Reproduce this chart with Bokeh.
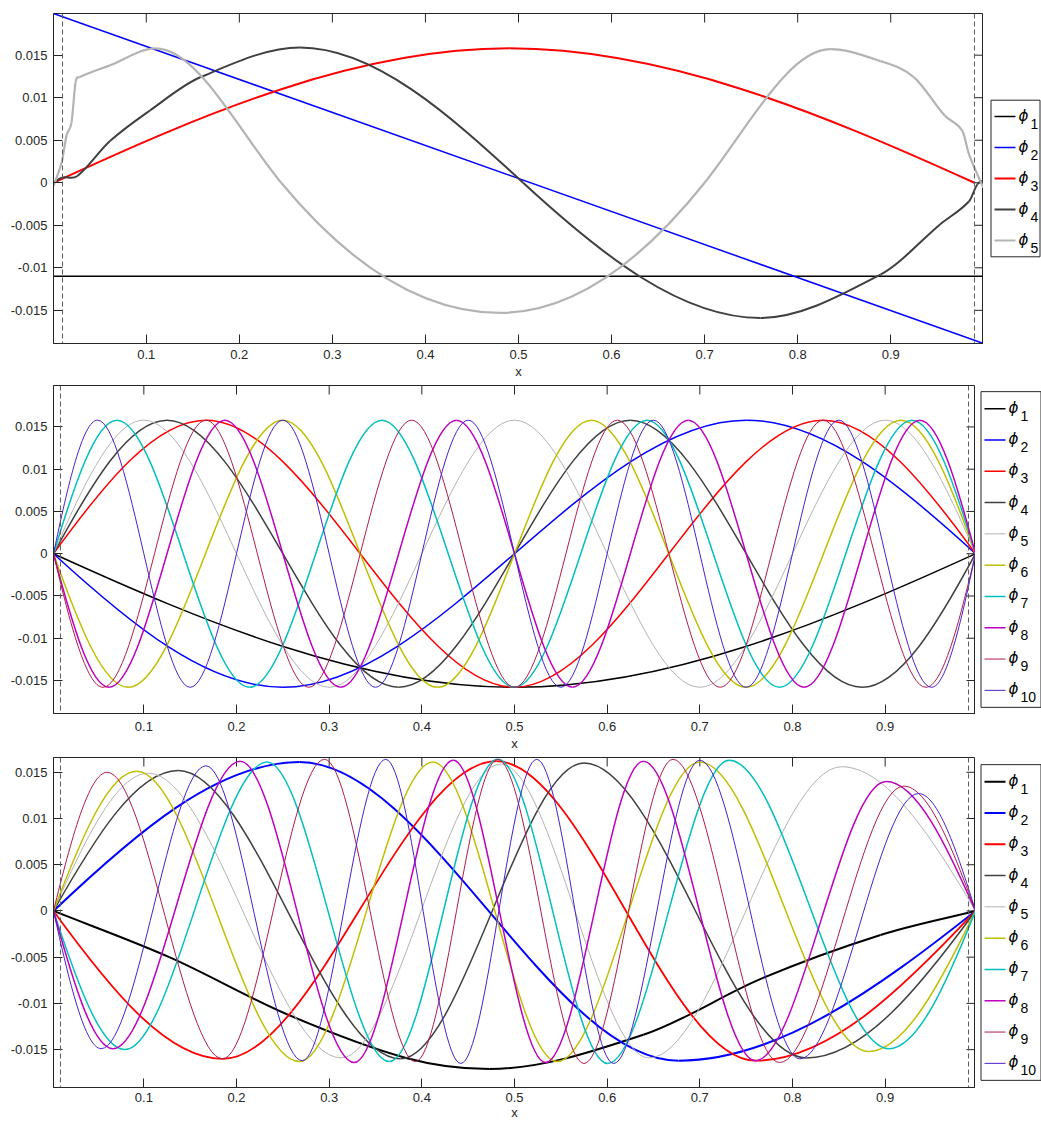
import numpy as np
from bokeh.plotting import figure
from bokeh.models import Range1d, FixedTicker, Span, ColumnDataSource
from bokeh.core.properties import value
from bokeh.layouts import column, row
from bokeh.embed import file_html
from bokeh.resources import INLINE

# ---------------- ticks / labels ----------------
x_ticks = [0.1, 0.2, 0.3, 0.4, 0.5, 0.6, 0.7, 0.8, 0.9]
x_tick_labels = ["0.1", "0.2", "0.3", "0.4", "0.5", "0.6", "0.7", "0.8", "0.9"]
y_ticks = [-0.015, -0.01, -0.005, 0.0, 0.005, 0.01, 0.015]
y_tick_labels = ["-0.015", "-0.01", "-0.005", "0", "0.005", "0.01", "0.015"]
boundary_x = [0.01, 0.99]
legend_symbol = "ϕ"
legend_subs = ["1", "2", "3", "4", "5", "6", "7", "8", "9", "10"]
colors = ["#000000", "#0000ff", "#ff0000", "#404040", "#b3b3b3",
          "#bfbf00", "#00bfbf", "#bf00bf", "#b01c4b", "#4a20cc"]

# ---------------- panel 1 (key points) ----------------
p1_phi1_x = [0.0003, 0.9997]
p1_phi1_y = [-0.0110, -0.0110]
p1_phi2_x = [0.0003, 0.9997]
p1_phi2_y = [0.0199, -0.0189]
p1_phi3_x = [0.0003, 0.49, 0.99]
p1_phi3_y = [0.0, 0.0158, 0.0]
p1_phi4_x = [0.0003, 0.0093, 0.026, 0.061, 0.104, 0.158, 0.265, 0.505, 0.76, 0.889, 0.953, 0.984, 0.993, 0.9997]
p1_phi4_y = [0.0, 0.0006, 0.0008, 0.0049, 0.0085, 0.0124, 0.0159, 0.0, -0.0159, -0.0108, -0.0049, -0.0022, -0.0002, 0.0003]
p1_phi5_x = [0.0003, 0.0093, 0.0144, 0.0197, 0.024, 0.028, 0.061, 0.11, 0.245, 0.48, 0.70, 0.835, 0.889, 0.925, 0.958, 0.977, 0.984, 0.993, 0.9997]
p1_phi5_y = [-0.0004, 0.0025, 0.0056, 0.0071, 0.0118, 0.0124, 0.0138, 0.0158, 0.0, -0.0153, 0.0, 0.0157, 0.0143, 0.0124, 0.0079, 0.0061, 0.0034, 0.0010, -0.0006]

# ---------------- panel 2 (extrema) ----------------
p2_phi1_x = [0.0025, 0.5, 0.9975]
p2_phi1_y = [0.0, -0.0158, 0.0]
p2_phi2_x = [0.0025, 0.25, 0.75, 0.9975]
p2_phi2_y = [0.0, -0.0158, 0.0158, 0.0]
p2_phi3_x = [0.0025, 0.167, 0.5, 0.833, 0.9975]
p2_phi3_y = [0.0, 0.0158, -0.0158, 0.0158, 0.0]
p2_phi4_x = [0.0025, 0.125, 0.375, 0.625, 0.875, 0.9975]
p2_phi4_y = [0.0, 0.0158, -0.0158, 0.0158, -0.0158, 0.0]
p2_phi5_x = [0.0025, 0.1, 0.3, 0.5, 0.7, 0.9, 0.9975]
p2_phi5_y = [0.0, 0.0158, -0.0158, 0.0158, -0.0158, 0.0158, 0.0]
p2_phi6_x = [0.0025, 0.083, 0.25, 0.417, 0.583, 0.75, 0.917, 0.9975]
p2_phi6_y = [0.0, -0.0158, 0.0158, -0.0158, 0.0158, -0.0158, 0.0158, 0.0]
p2_phi7_x = [0.0025, 0.071, 0.214, 0.357, 0.5, 0.643, 0.786, 0.929, 0.9975]
p2_phi7_y = [0.0, 0.0158, -0.0158, 0.0158, -0.0158, 0.0158, -0.0158, 0.0158, 0.0]
p2_phi8_x = [0.0025, 0.0625, 0.1875, 0.3125, 0.4375, 0.5625, 0.6875, 0.8125, 0.9375, 0.9975]
p2_phi8_y = [0.0, -0.0158, 0.0158, -0.0158, 0.0158, -0.0158, 0.0158, -0.0158, 0.0158, 0.0]
p2_phi9_x = [0.0025, 0.056, 0.167, 0.278, 0.389, 0.5, 0.611, 0.722, 0.833, 0.944, 0.9975]
p2_phi9_y = [0.0, -0.0158, 0.0158, -0.0158, 0.0158, -0.0158, 0.0158, -0.0158, 0.0158, -0.0158, 0.0]
p2_phi10_x = [0.0025, 0.05, 0.15, 0.25, 0.35, 0.45, 0.55, 0.65, 0.75, 0.85, 0.95, 0.9975]
p2_phi10_y = [0.0, 0.0158, -0.0158, 0.0158, -0.0158, 0.0158, -0.0158, 0.0158, -0.0158, 0.0158, -0.0158, 0.0]

# ---------------- panel 3 (key points) ----------------
p3_phi1_x = [0.0025, 0.1275, 0.255, 0.383, 0.4728, 0.639, 0.767, 0.895, 0.9975]
p3_phi1_y = [0.0, -0.0050, -0.0112, -0.0159, -0.0171, -0.0134, -0.0073, -0.0026, 0.0]
p3_phi2_x = [0.0025, 0.268, 0.677, 0.9975]
p3_phi2_y = [0.0, 0.0161, -0.0162, 0.0]
p3_phi3_x = [0.0025, 0.185, 0.4805, 0.760, 0.9975]
p3_phi3_y = [0.0, -0.0160, 0.0162, -0.0162, 0.0]
p3_phi4_x = [0.0025, 0.137, 0.377, 0.575, 0.815, 0.9975]
p3_phi4_y = [0.0, 0.0152, -0.0160, 0.0160, -0.0159, 0.0]
p3_phi5_x = [0.0025, 0.105, 0.313, 0.4855, 0.645, 0.853, 0.9975]
p3_phi5_y = [0.0, 0.0149, -0.0159, 0.0159, -0.0159, 0.0156, 0.0]
p3_phi6_x = [0.0025, 0.0923, 0.268, 0.412, 0.546, 0.700, 0.882, 0.9975]
p3_phi6_y = [0.0, 0.0151, -0.0163, 0.0161, -0.0163, 0.0161, -0.0152, 0.0]
p3_phi7_x = [0.0025, 0.0795, 0.233, 0.365, 0.482, 0.6006, 0.7317, 0.904, 0.9975]
p3_phi7_y = [0.0, -0.0150, 0.0161, -0.0163, 0.0164, -0.0165, 0.0163, -0.0149, 0.0]
p3_phi8_x = [0.0025, 0.0667, 0.204, 0.327, 0.434, 0.5335, 0.639, 0.760, 0.901, 0.9975]
p3_phi8_y = [0.0, -0.0149, 0.0162, -0.0164, 0.0163, -0.0164, 0.0162, -0.0162, 0.0140, 0.0]
p3_phi9_x = [0.0025, 0.0604, 0.185, 0.295, 0.393, 0.482, 0.575, 0.671, 0.786, 0.920, 0.9975]
p3_phi9_y = [0.0, 0.0150, -0.0160, 0.0164, -0.0163, 0.0164, -0.0165, 0.0164, -0.0164, 0.0135, 0.0]
p3_phi10_x = [0.0025, 0.054, 0.167, 0.271, 0.361, 0.442, 0.524, 0.607, 0.700, 0.808, 0.936, 0.9975]
p3_phi10_y = [0.0, -0.0149, 0.0157, -0.0162, 0.0164, -0.0165, 0.0164, -0.0165, 0.0163, -0.0160, 0.0127, 0.0]

p1_curves = [(p1_phi1_x, p1_phi1_y), (p1_phi2_x, p1_phi2_y), (p1_phi3_x, p1_phi3_y),
             (p1_phi4_x, p1_phi4_y), (p1_phi5_x, p1_phi5_y)]
p2_curves = [(p2_phi1_x, p2_phi1_y), (p2_phi2_x, p2_phi2_y), (p2_phi3_x, p2_phi3_y),
             (p2_phi4_x, p2_phi4_y), (p2_phi5_x, p2_phi5_y), (p2_phi6_x, p2_phi6_y),
             (p2_phi7_x, p2_phi7_y), (p2_phi8_x, p2_phi8_y), (p2_phi9_x, p2_phi9_y),
             (p2_phi10_x, p2_phi10_y)]
p3_curves = [(p3_phi1_x, p3_phi1_y), (p3_phi2_x, p3_phi2_y), (p3_phi3_x, p3_phi3_y),
             (p3_phi4_x, p3_phi4_y), (p3_phi5_x, p3_phi5_y), (p3_phi6_x, p3_phi6_y),
             (p3_phi7_x, p3_phi7_y), (p3_phi8_x, p3_phi8_y), (p3_phi9_x, p3_phi9_y),
             (p3_phi10_x, p3_phi10_y)]

p1_widths = [1.5, 1.5, 2.0, 2.0, 2.2]
p2_widths = [1.5, 1.5, 1.5, 1.5, 1.0, 1.5, 1.5, 1.5, 1.0, 1.0]
p3_widths = [2.0, 2.0, 1.8, 1.5, 1.0, 1.5, 1.5, 1.5, 1.0, 1.0]

AX = "#262626"
FONT = "Liberation Sans"
HALF_PI = np.pi / 2
TICK_LEN = 9
W = 1041
LEFT = 53


def smooth_segments(xs, ys):
    """Cubic Hermite (as Bezier control points) through the read key points:
    flat tangent at extrema, sine-like tangent between extrema."""
    xs = np.asarray(xs, float)
    ys = np.asarray(ys, float)
    n = len(xs)
    ext = [False] * n
    for i in range(1, n - 1):
        ext[i] = (ys[i] - ys[i - 1]) * (ys[i + 1] - ys[i]) <= 0
    anchor = [ext[i] or i in (0, n - 1) for i in range(n)]
    m = np.zeros(n)
    for i in range(n):
        if ext[i]:
            continue
        if i == 0:
            j0, j1, f = 0, 1, (HALF_PI if ext[1] else 1.0)
        elif i == n - 1:
            j0, j1, f = n - 2, n - 1, (HALF_PI if ext[n - 2] else 1.0)
        else:
            j0, j1 = i - 1, i + 1
            f = HALF_PI if (anchor[i - 1] and anchor[i + 1]) else 1.0
        m[i] = f * (ys[j1] - ys[j0]) / (xs[j1] - xs[j0])
    dx = xs[1:] - xs[:-1]
    return dict(x0=xs[:-1], y0=ys[:-1], x1=xs[1:], y1=ys[1:],
                cx0=xs[:-1] + dx / 3, cy0=ys[:-1] + m[:-1] * dx / 3,
                cx1=xs[1:] - dx / 3, cy1=ys[1:] - m[1:] * dx / 3)


def make_panel(curves, widths, xr, yr, frame_w, frame_h, top, bottom, gap,
               tick_standoff, xlabel_standoff, leg):
    p = figure(frame_width=frame_w, frame_height=frame_h,
               x_range=Range1d(*xr), y_range=Range1d(*yr),
               output_backend="svg", toolbar_location=None,
               min_border_left=LEFT, min_border_right=0,
               min_border_top=top, min_border_bottom=bottom,
               x_axis_label="x")
    p.grid.visible = False
    p.outline_line_color = AX
    p.outline_line_width = 1
    p.background_fill_color = "white"
    p.border_fill_color = "white"

    xa = p.below[0]
    xa.ticker = FixedTicker(ticks=x_ticks)
    xa.major_label_overrides = dict(zip(x_ticks, x_tick_labels))
    ya = p.left[0]
    ya.ticker = FixedTicker(ticks=y_ticks)
    ya.major_label_overrides = dict(zip(y_ticks, y_tick_labels))
    for ax in (xa, ya):
        ax.major_tick_in = TICK_LEN
        ax.major_tick_out = 0
        ax.minor_tick_line_color = None
        ax.axis_line_color = AX
        ax.major_tick_line_color = AX
        ax.major_label_text_font = FONT
        ax.major_label_text_font_size = "13px"
        ax.major_label_text_color = AX
    ya.major_label_standoff = 6
    xa.major_label_standoff = tick_standoff
    xa.axis_label_standoff = xlabel_standoff
    xa.axis_label_text_font = FONT
    xa.axis_label_text_font_size = "13px"
    xa.axis_label_text_font_style = "normal"
    xa.axis_label_text_color = AX

    # inward ticks on the top and right edges of the box (MATLAB style)
    dy = TICK_LEN * (yr[1] - yr[0]) / frame_h
    dx = TICK_LEN * (xr[1] - xr[0]) / frame_w
    p.segment(x0=x_ticks, y0=[yr[1]] * len(x_ticks), x1=x_ticks, y1=[yr[1] - dy] * len(x_ticks),
              line_color=AX, line_width=1)
    p.segment(x0=[xr[1]] * len(y_ticks), y0=y_ticks, x1=[xr[1] - dx] * len(y_ticks), y1=y_ticks,
              line_color=AX, line_width=1)

    for bx in boundary_x:
        p.add_layout(Span(location=bx, dimension="height", line_color="#5a5a5a",
                          line_dash="5 3", line_width=1))

    for k, (xs, ys) in enumerate(curves):
        src = ColumnDataSource(smooth_segments(xs, ys))
        p.bezier(x0="x0", y0="y0", x1="x1", y1="y1", cx0="cx0", cy0="cy0",
                 cx1="cx1", cy1="cy1", source=src,
                 line_color=colors[k], line_width=widths[k])

    # ---- legend box to the right of the axes (pixel coordinates) ----
    lw = W - LEFT - frame_w
    lf = figure(frame_width=lw, frame_height=frame_h,
                x_range=Range1d(0, lw), y_range=Range1d(0, frame_h),
                min_border_left=0, min_border_right=0,
                min_border_top=top, min_border_bottom=bottom,
                toolbar_location=None, output_backend="svg",
                x_axis_location=None, y_axis_location=None)
    lf.outline_line_color = None
    lf.grid.visible = False
    lf.background_fill_color = "white"
    lf.border_fill_color = "white"

    n = len(curves)
    box_h = (n - 1) * leg["pitch"] + 2 * leg["pad"]
    top_y = (frame_h + box_h) / 2
    lf.quad(left=[gap + 0.5], right=[gap + leg["box_w"] + 0.5], top=[top_y], bottom=[top_y - box_h],
            fill_color="white", line_color=AX, line_width=1)
    ys_items = [top_y - leg["pad"] - i * leg["pitch"] for i in range(n)]
    lf.segment(x0=[gap + 4] * n, y0=ys_items, x1=[gap + 25] * n, y1=ys_items,
               line_color=colors[:n], line_width=widths[:n])
    lf.text(x=[gap + 28] * n, y=[y + 1 for y in ys_items], text=[legend_symbol] * n,
            text_font=value("DejaVu Sans"), text_font_style="italic",
            text_font_size=value("15px"), text_color="#000000",
            text_align="left", text_baseline="middle")
    lf.text(x=[gap + 40] * n, y=[y - 7 for y in ys_items], text=legend_subs[:n],
            text_font=value(FONT), text_font_size=value("14px"), text_color="#000000",
            text_align="left", text_baseline="middle")
    return row(p, lf, spacing=0)


leg1 = dict(box_w=49, pitch=31.0, pad=16.3)
leg23 = dict(box_w=60, pitch=31.3, pad=17.0)

r1 = make_panel(p1_curves, p1_widths, (0.0003, 0.9997), (-0.0189, 0.0199),
                930, 330, 13, 42, 7, 6, 2, leg1)
r2 = make_panel(p2_curves, p2_widths, (0.0025, 0.9975), (-0.0189, 0.0199),
                922, 328, 0, 44, 5, 8, 2, leg23)
r3 = make_panel(p3_curves, p3_widths, (0.0025, 0.9975), (-0.0191, 0.0166),
                922, 330, 0, 35, 5, 5, 0, leg23)

layout = column(r1, r2, r3, spacing=0)
open("out.html", "w").write(file_html(layout, INLINE))
